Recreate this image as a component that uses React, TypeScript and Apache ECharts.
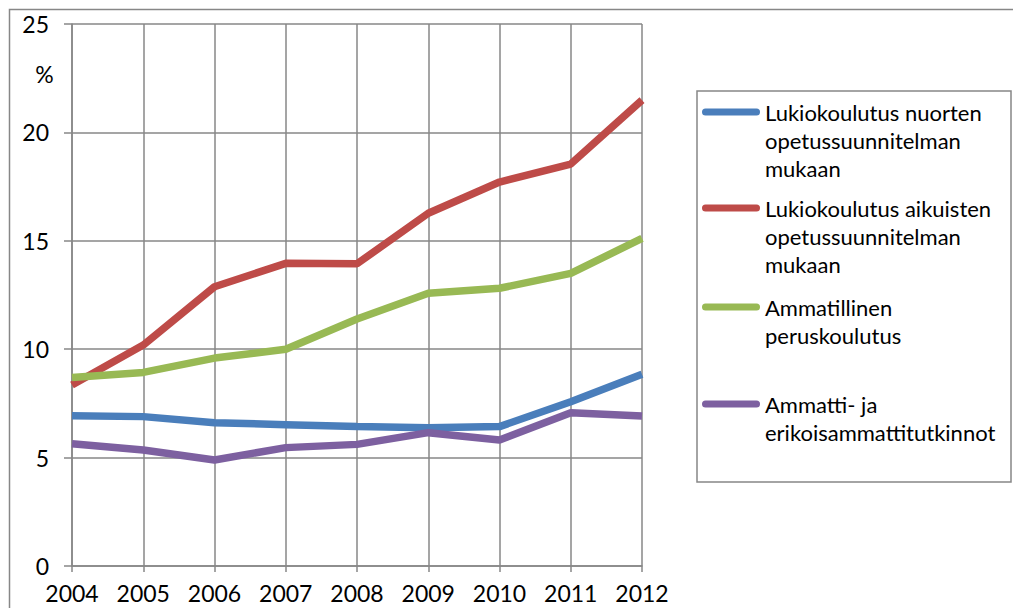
import React, { useEffect, useRef } from "react";
import * as echarts from "echarts";

const years = ["2004", "2005", "2006", "2007", "2008", "2009", "2010", "2011", "2012"];
const lukioNuoret = [6.93, 6.89, 6.61, 6.52, 6.43, 6.38, 6.43, 7.58, 8.84];
const lukioAikuiset = [8.35, 10.19, 12.88, 13.96, 13.94, 16.27, 17.71, 18.54, 21.49];
const ammatillinen = [8.69, 8.93, 9.59, 10.0, 11.39, 12.58, 12.81, 13.5, 15.11];
const ammattiErikois = [5.64, 5.35, 4.89, 5.46, 5.61, 6.15, 5.81, 7.07, 6.92];

const seriesNames = [
  "Lukiokoulutus nuorten opetussuunnitelman mukaan",
  "Lukiokoulutus aikuisten opetussuunnitelman mukaan",
  "Ammatillinen peruskoulutus",
  "Ammatti- ja erikoisammattitutkinnot",
];
const legendLines = [
  ["Lukiokoulutus nuorten", "opetussuunnitelman", "mukaan"],
  ["Lukiokoulutus aikuisten", "opetussuunnitelman", "mukaan"],
  ["Ammatillinen", "peruskoulutus"],
  ["Ammatti- ja", "erikoisammattitutkinnot"],
];
const colors = ["#4A7EBB", "#BE4B48", "#98B954", "#7D60A0"];
const seriesData = [lukioNuoret, lukioAikuiset, ammatillinen, ammattiErikois];

const FONT = "Lato, 'Noto Sans', sans-serif";
const GRID = "#878787";
const LH = 28;
const iconCenters = [112, 208, 307, 404];

export default function App() {
  const ref = useRef<HTMLDivElement>(null);
  useEffect(() => {
    if (!ref.current) return;
    const chart = echarts.init(ref.current, undefined, { renderer: "svg" });
    const legends = seriesNames.map((name, i) => {
      const n = legendLines[i].length;
      const blockLines = 2 * n - 1;
      return {
        show: true,
        data: [name],
        left: 702,
        top: iconCenters[i] - (blockLines * LH) / 2,
        padding: 0,
        itemWidth: 58,
        itemHeight: 7,
        icon: "path://M3.5,0 L54.5,0 A3.5,3.5 0 0 1 54.5,7 L3.5,7 A3.5,3.5 0 0 1 3.5,0 Z",
        selectedMode: false,
        formatter: () => {
          const pad = new Array(n - 1).fill("");
          return [...pad, ...legendLines[i]].join("\n");
        },
        textStyle: { fontFamily: FONT, fontSize: 22, color: "#000", lineHeight: LH },
      };
    });
    chart.setOption({
      animation: false,
      backgroundColor: "#fff",
      color: colors,
      grid: { left: 72, right: 371, top: 24, bottom: 42, containLabel: false },
      legend: legends,
      xAxis: {
        type: "category",
        data: years,
        boundaryGap: false,
        axisLine: { show: true, lineStyle: { color: GRID, width: 1.5 } },
        axisTick: { show: true, interval: 0, length: 6, lineStyle: { color: GRID, width: 1.5 } },
        splitLine: { show: true, interval: 0, lineStyle: { color: GRID, width: 1.5 } },
        axisLabel: { interval: 0, fontFamily: FONT, fontSize: 23, color: "#000", margin: 15 },
      },
      yAxis: {
        type: "value",
        min: 0,
        max: 25,
        interval: 5,
        axisLine: { show: true, lineStyle: { color: GRID, width: 1.5 } },
        axisTick: { show: true, length: 8, lineStyle: { color: GRID, width: 1.5 } },
        splitLine: { show: true, lineStyle: { color: GRID, width: 1.5 } },
        axisLabel: { fontFamily: FONT, fontSize: 23, color: "#000", margin: 23 },
      },
      graphic: [
        {
          type: "rect",
          shape: { x: 9.5, y: 9.5, width: 1100, height: 700 },
          style: { fill: "none", stroke: GRID, lineWidth: 1.5 },
          silent: true,
        },
        {
          type: "rect",
          shape: { x: 697, y: 91, width: 314, height: 391 },
          style: { fill: "none", stroke: GRID, lineWidth: 1.5 },
          silent: true,
        },
        {
          type: "text",
          x: 44.5,
          y: 74,
          style: {
            text: "%",
            fontFamily: FONT,
            fontSize: 23,
            fill: "#000",
            align: "center",
            verticalAlign: "middle",
          },
        },
      ],
      series: seriesNames.map((name, i) => ({
        name,
        type: "line",
        data: seriesData[i],
        symbol: "none",
        lineStyle: { width: 7.5, color: colors[i] },
        itemStyle: { color: colors[i] },
      })),
    });
    return () => chart.dispose();
  }, []);
  return (
    <div
      ref={ref}
      style={{ position: "fixed", left: 0, top: 0, width: 1013, height: 608, background: "#fff" }}
    />
  );
}
